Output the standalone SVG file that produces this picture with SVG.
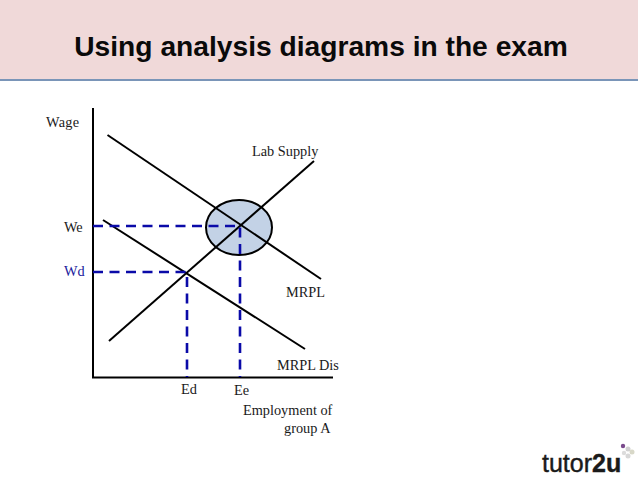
<svg xmlns="http://www.w3.org/2000/svg" width="638" height="479" viewBox="0 0 638 479">
<style>
.s{stroke:#000;stroke-width:2;fill:none}
.d{stroke:#0a0aa8;stroke-width:2.600;fill:none;stroke-dasharray:10 6.500}
.t{font-family:"Liberation Serif",serif;font-size:14.300px;fill:#1a1a1a}
.f{font-family:"Liberation Sans",sans-serif}
</style>
<rect width="638" height="479" fill="#fff"/>
<g id="header">
<rect width="638" height="79" fill="#f0d9d9"/>
<rect y="79" width="638" height="2" fill="#7a95b8"/>
<text x="321" y="56" text-anchor="middle" class="f" font-size="28.200" font-weight="700" fill="#0a0a0a">Using analysis diagrams in the exam</text>
</g>
<g id="equilibrium-zone"><ellipse cx="239" cy="227.500" rx="33" ry="27.500" fill="#c3d2e6" stroke="#000" stroke-width="2"/></g>
<g id="connectors">
<path class="s" d="M93 108V377.500H333"/>
<path class="s" d="M107.500 135L321 279"/>
<path class="s" d="M103 220L305 349"/>
<path class="s" d="M109 341L314 161"/>
<path class="d" d="M93 226H240V377"/>
<path class="d" d="M93 272H187V377"/>
</g>
<g id="label-wage"><text class="t" x="46" y="127" letter-spacing="0.300">Wage</text></g>
<g id="label-lab-supply"><text class="t" x="252" y="156">Lab Supply</text></g>
<g id="label-we"><text class="t" x="64" y="232">We</text></g>
<g id="label-wd"><text class="t" x="64" y="276" style="fill:#1a1a9c">Wd</text></g>
<g id="label-mrpl"><text class="t" x="286" y="297">MRPL</text></g>
<g id="label-mrpl-dis"><text class="t" x="277" y="370">MRPL Dis</text></g>
<g id="label-ed"><text class="t" x="181" y="394">Ed</text></g>
<g id="label-ee"><text class="t" x="234" y="395">Ee</text></g>
<g id="label-employment"><text class="t" x="243" y="415">Employment of</text><text class="t" x="284" y="433">group A</text></g>
<g id="logo">
<text x="542" y="472" class="f" font-size="25" fill="#1a1a1a" stroke="#1a1a1a" stroke-width="0.400">tutor<tspan font-weight="700">2u</tspan></text>
<circle cx="628" cy="449" r="2.500" fill="#d0d0d0"/><circle cx="628" cy="456" r="2.500" fill="#d8d8d8"/><circle cx="623" cy="446" r="2.200" fill="#7a4a8c"/>
<circle cx="632" cy="452" r="2.500" fill="#d8d8c8"/><circle cx="624" cy="453" r="2.200" fill="#dcdcdc"/>
</g>
</svg>
